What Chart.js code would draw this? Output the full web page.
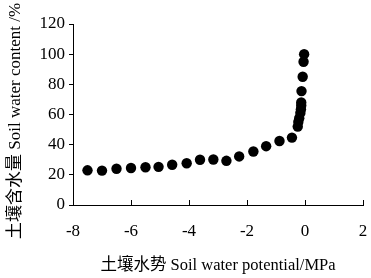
<!DOCTYPE html>
<html>
<head>
<meta charset="utf-8">
<script src="https://cdn.jsdelivr.net/npm/chart.js@4/dist/chart.umd.min.js"></script>
<style>
  html, body { margin: 0; padding: 0; background: #fff; }
  #wrap { width: 371px; height: 278px; }
</style>
</head>
<body>
<div id="wrap"><canvas id="soil" width="371" height="278"></canvas></div>
<script>
// soil water potential (MPa) vs soil water content (%)
const potential = [-7.5, -7.0, -6.5, -6.0, -5.5, -5.05, -4.58, -4.08, -3.62, -3.16, -2.71, -2.27, -1.78, -1.34, -0.88, -0.45,
    -0.25, -0.23, -0.2, -0.16, -0.14, -0.13, -0.13, -0.12, -0.08, -0.05, -0.03];
const content = [23, 22.8, 24, 24.5, 25, 25.3, 26.7, 27.7, 30, 30.2, 29.3, 32.2, 35.5, 39, 42.4, 44.7,
    52, 55, 57.5, 61, 63.5, 66, 68, 75.5, 85, 95, 100];
const xTicks = [-8, -6, -4, -2, 0, 2];
const yTicks = [0, 20, 40, 60, 80, 100, 120];

const xTitle = '土壤水势 Soil water potential/MPa';
// trailing spaces nudge the rotated title a bit lower, like the original
const yTitle = '土壤含水量 Soil water content /%   ';

const FONT = '"Liberation Serif", "Times New Roman", "Noto Sans CJK SC", serif';

// x axis ticks point inward (up), drawn from the scale itself
const innerTicks = {
    id: 'innerTicks',
    afterDraw(chart) {
        const ctx = chart.ctx;
        const xs = chart.scales.x;
        const bottom = chart.chartArea.bottom;
        ctx.save();
        ctx.strokeStyle = '#000';
        ctx.lineWidth = 1;
        xTicks.forEach(v => {
            const px = Math.round(xs.getPixelForValue(v)) + 0.5;
            ctx.beginPath();
            ctx.moveTo(px, bottom);
            ctx.lineTo(px, bottom - 5);
            ctx.stroke();
        });
        ctx.restore();
    }
};

new Chart(document.getElementById('soil').getContext('2d'), {
    type: 'scatter',
    data: {
        datasets: [{
            data: potential.map((x, i) => ({ x: x, y: content[i] })),
            backgroundColor: '#000',
            borderWidth: 0,
            pointRadius: 5.2,
            pointHoverRadius: 5.2
        }]
    },
    options: {
        responsive: false,
        animation: false,
        layout: { autoPadding: false, padding: { top: 24, right: 8, left: 0, bottom: 0 } },
        plugins: { legend: { display: false }, tooltip: { enabled: false } },
        scales: {
            x: {
                type: 'linear',
                min: -8,
                max: 2,
                afterBuildTicks: s => { s.ticks = xTicks.map(v => ({ value: v })); },
                afterFit: s => { s.height = 73; s.paddingLeft = 0; s.paddingRight = 0; },
                grid: { drawOnChartArea: false, drawTicks: false },
                border: { color: '#000', width: 1 },
                ticks: { color: '#000', padding: 16, font: { family: FONT, size: 17 } },
                title: { display: true, text: xTitle, color: '#000', padding: { top: 6, bottom: 2 }, font: { family: FONT, size: 16.5 } }
            },
            y: {
                min: 0,
                max: 120,
                afterBuildTicks: s => { s.ticks = yTicks.map(v => ({ value: v })); },
                afterFit: s => { s.width = 73; },
                grid: { drawOnChartArea: false, drawTicks: true, tickLength: 4, tickColor: '#000' },
                border: { color: '#000', width: 1 },
                ticks: { color: '#000', padding: 4, font: { family: FONT, size: 17 } },
                title: { display: true, text: yTitle, color: '#000', padding: { top: 5, bottom: 0 }, font: { family: FONT, size: 17 } }
            }
        }
    },
    plugins: [innerTicks]
});
</script>
</body>
</html>
